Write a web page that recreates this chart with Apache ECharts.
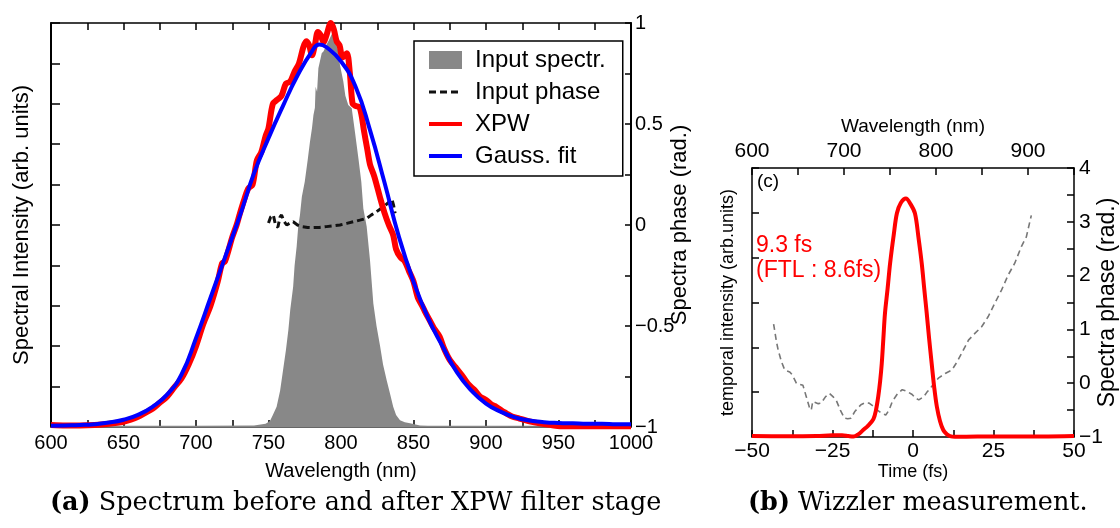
<!DOCTYPE html>
<html><head><meta charset="utf-8">
<script src="https://cdn.jsdelivr.net/npm/echarts@6/dist/echarts.min.js"></script>
<style>html,body{margin:0;padding:0;background:#fff}#c{width:1120px;height:528px}</style>
</head><body><div id="c"></div>
<script>
// ---------- Panel (a): spectra vs wavelength ----------
const wlInput = [600,700,740,748,751,753,755.6,758,760,762,763.7,765,767,768,769.4,770.5,771.7,773,775,777,778.6,780,781,782,782.5,783.5,784.4,786.7,788,790,792,794,796,797,798,799.3,801.6,803,805,807.4,808.5,809.6,812,814,815.4,817.7,820,822.3,824.5,827,829,831.5,834,836,838,840.7,844,847.6,854.5,860,900,1000];
const ampInput = [0.003,0.003,0.004,0.008,0.015,0.03,0.05,0.09,0.14,0.19,0.24,0.29,0.347,0.4,0.446,0.496,0.525,0.57,0.607,0.66,0.706,0.74,0.772,0.79,0.842,0.83,0.888,0.925,0.93,0.946,0.96,0.975,0.972,0.96,0.93,0.896,0.855,0.82,0.797,0.789,0.76,0.731,0.665,0.607,0.541,0.496,0.413,0.306,0.25,0.199,0.155,0.116,0.08,0.05,0.03,0.017,0.012,0.009,0.004,0.003,0.003,0.003];

const wlPhaseA = [750,751.5,753.3,755,756.5,758,759,760.5,762.5,765,767,770,773,777,781,785,790,795,799.3,804,808.5,813,817.7,821,824.6,829.2,832.6,835,836.2,837.3];
const phaseA = [0.01,0.04,0.05,-0.005,-0.01,0.04,0.05,0.02,0.0,0.01,0.016,0.0,-0.008,-0.012,-0.013,-0.012,-0.008,-0.004,0.0,0.008,0.016,0.024,0.033,0.05,0.066,0.09,0.11,0.13,0.1,0.058];

const wlXPW = [600,610,620,630,640,650,655,660,665,670,675,680,685,690,695,700,705,710,715,718,720,725,728,730,733,736,739,742,745,748,750,753,756,759,762,765,768,771,774,776,778,780,782,784,786,788,790,793,795,797,799,801,804,806,808,810,813,816,818,820,823,827,830,833,836,838,841,844,847,850,853,856,858,861,864,868,871,875,879,884,888,892,896,900,904,907,911,914,918,923,930,937,945,951,960,980,1000];
const ampXPW = [0.005,0.004,0.004,0.005,0.008,0.013,0.018,0.025,0.035,0.045,0.06,0.075,0.098,0.12,0.155,0.2,0.255,0.3,0.36,0.405,0.41,0.47,0.5,0.525,0.56,0.59,0.6,0.66,0.68,0.72,0.74,0.8,0.81,0.82,0.85,0.855,0.88,0.9,0.94,0.955,0.945,0.92,0.945,0.978,0.97,0.952,0.97,1.0,0.985,0.955,0.945,0.915,0.925,0.88,0.8,0.795,0.79,0.73,0.69,0.65,0.62,0.567,0.53,0.5,0.475,0.44,0.42,0.41,0.385,0.36,0.32,0.3,0.285,0.265,0.245,0.224,0.195,0.166,0.148,0.125,0.105,0.092,0.075,0.067,0.055,0.05,0.04,0.034,0.026,0.021,0.014,0.009,0.005,0.002,0.002,0.002,0.002];

const wlGauss = [600,610,620,630,640,650,660,670,680,690,700,710,720,730,740,750,760,770,780,785,790,800,810,820,830,840,850,860,870,880,890,900,910,920,930,940,950,960,970,980,990,1000];
const ampGauss = [0.003,0.004,0.005,0.007,0.011,0.018,0.03,0.05,0.08,0.13,0.22,0.32,0.42,0.52,0.628,0.715,0.795,0.87,0.93,0.947,0.94,0.905,0.843,0.735,0.605,0.47,0.36,0.27,0.2,0.135,0.09,0.058,0.038,0.024,0.016,0.012,0.01,0.009,0.008,0.008,0.007,0.007];

// ---------- Panel (b): Wizzler ----------
const timeFs = [-50,-40,-30,-25,-22,-20,-18.5,-17,-15.4,-14,-12.3,-11.5,-10.8,-10.2,-9.7,-9.2,-8.7,-7.9,-7.1,-6,-5,-3.8,-2.2,-0.8,0.6,1.7,2.7,3.5,4.26,5,5.8,6.6,7.4,8.4,9.4,10.5,11.5,13,20,30,40,50];
const pulse = [0.02,0.015,0.02,0.04,0.04,0.02,0.01,0.06,0.16,0.25,0.4,0.6,0.9,1.25,1.64,2.2,2.76,3.3,3.88,4.5,4.99,5.22,5.32,5.2,4.99,4.45,3.88,3.3,2.76,2.2,1.64,1.1,0.68,0.35,0.156,0.06,0.02,0.005,0.01,0.01,0.01,0.02];

const wlPhaseB = [623.5,626.6,628.4,632,635.6,641,644,648.2,652,655.4,659,662.6,664.4,666,668,672,675.2,680,684.2,688,691.4,696,700.4,704,707.6,712,718.4,723,727.3,732,736.3,741,745.4,749,752.5,758,763.3,768,774.1,778,781.3,786.7,790,794,798,803,810,817.3,823,828,835.3,842.5,849.6,856.8,864,871.2,878.4,885.6,892.8,898.2,903.6];
const phaseB = [1.1,0.77,0.62,0.4,0.245,0.21,0.15,0.0,-0.02,-0.04,-0.25,-0.46,-0.5,-0.34,-0.34,-0.38,-0.37,-0.25,-0.19,-0.25,-0.31,-0.5,-0.65,-0.66,-0.65,-0.52,-0.4,-0.36,-0.37,-0.43,-0.5,-0.56,-0.59,-0.5,-0.34,-0.2,-0.12,-0.15,-0.21,-0.28,-0.31,-0.25,-0.17,-0.09,0.0,0.1,0.18,0.245,0.4,0.56,0.8,0.93,1.05,1.24,1.49,1.73,2.01,2.23,2.54,2.72,3.12];

const zip = (a, b) => a.map((v, i) => [v, b[i]]);
const F = '"Liberation Sans", Arial, sans-serif';
const SERIF = '"DejaVu Serif", "Liberation Serif", serif';
const minus = v => (v < 0 ? '\u2212' + Math.abs(v) : String(v));
const black = '#000';
const hiddenSymbol = { color: 'rgba(0,0,0,0)', borderWidth: 0, opacity: 0 };

function axis(extra) {
  return Object.assign({
    type: 'value',
    splitLine: { show: false },
    axisLine: { show: true, onZero: false, lineStyle: { color: black, width: 1.5 } },
    axisTick: { show: true, inside: true, length: 7, lineStyle: { color: black, width: 1.5 } },
    axisLabel: { show: false, color: black, fontFamily: F },
    nameTextStyle: { color: black, fontFamily: F },
    nameLocation: 'middle',
    nameMoveOverlap: false
  }, extra);
}

const chart = echarts.init(document.getElementById('c'), null, { renderer: 'canvas' });
chart.setOption({
  animation: false,
  backgroundColor: '#fff',
  textStyle: { fontFamily: F },
  grid: [
    { left: 51, top: 23, width: 580, height: 404 },
    { left: 752, top: 168, width: 322, height: 269 }
  ],
  xAxis: [
    axis({ gridIndex: 0, position: 'bottom', min: 600, max: 1000, interval: 25,
      axisLine: { show: true, onZero: false, lineStyle: { color: '#666', width: 2 } },
      axisLabel: { show: true, color: black, fontFamily: F, fontSize: 20, margin: 6, showMinLabel: true, showMaxLabel: true,
        formatter: v => (v % 50 === 0 ? String(v) : '') },
      name: 'Wavelength (nm)', nameGap: 34, nameTextStyle: { color: black, fontFamily: F, fontSize: 20 } }),
    axis({ gridIndex: 0, position: 'top', min: 600, max: 1000, interval: 25 }),
    axis({ gridIndex: 1, position: 'bottom', min: -50, max: 50, interval: 12.5,
      axisLabel: { show: true, color: black, fontFamily: F, fontSize: 21, margin: 4, showMinLabel: true, showMaxLabel: true,
        formatter: v => (v % 25 === 0 ? minus(v) : '') },
      name: 'Time (fs)', nameGap: 26, nameTextStyle: { color: black, fontFamily: F, fontSize: 18 } }),
    axis({ gridIndex: 1, position: 'top', min: 600, max: 950, interval: 50,
      axisLabel: { show: true, color: black, fontFamily: F, fontSize: 21, margin: 6, showMinLabel: true, showMaxLabel: true,
        formatter: v => (v % 100 === 0 ? String(v) : '') },
      name: 'Wavelength (nm)', nameGap: 32, nameTextStyle: { color: black, fontFamily: F, fontSize: 19 } })
  ],
  yAxis: [
    axis({ gridIndex: 0, position: 'left', min: 0, max: 1, interval: 0.1,
      axisLine: { show: true, onZero: false, lineStyle: { color: black, width: 2 } },
      axisTick: { show: true, inside: true, length: 9, lineStyle: { color: black, width: 1.5 } },
      name: 'Spectral Intensity (arb. units)', nameGap: 18, nameRotate: 90, nameTextStyle: { color: black, fontFamily: F, fontSize: 22 } }),
    axis({ gridIndex: 0, position: 'right', min: -1, max: 1, interval: 0.25,
      axisLine: { show: true, onZero: false, lineStyle: { color: black, width: 2 } },
      axisTick: { show: true, inside: true, length: 6, lineStyle: { color: black, width: 1.5 } },
      axisLabel: { show: true, color: black, fontFamily: F, fontSize: 20, margin: 4, showMinLabel: true, showMaxLabel: true,
        formatter: v => (Math.abs(v * 2 - Math.round(v * 2)) < 1e-9 ? minus(v) : '') },
      name: 'Spectra phase (rad.)', nameGap: 38, nameRotate: 90, nameTextStyle: { color: black, fontFamily: F, fontSize: 22 } }),
    axis({ gridIndex: 1, position: 'left', min: 0, max: 6, interval: 1,
      name: 'temporal intensity (arb.units)', nameGap: 15, nameRotate: 90, nameTextStyle: { color: black, fontFamily: F, fontSize: 18 } }),
    axis({ gridIndex: 1, position: 'right', min: -1, max: 4, interval: 0.5,
      axisLabel: { show: true, color: black, fontFamily: F, fontSize: 21, margin: 5, showMinLabel: true, showMaxLabel: true,
        formatter: v => (v % 1 === 0 ? minus(v) : '') },
      name: 'Spectra phase (rad.)', nameGap: 22, nameRotate: 90, nameTextStyle: { color: black, fontFamily: F, fontSize: 23 } })
  ],
  legend: {
    orient: 'vertical', left: 414, top: 41,
    backgroundColor: '#fff', borderColor: black, borderWidth: 1.5,
    padding: [7, 17, 8, 13], itemGap: 8, itemWidth: 33, itemHeight: 18,
    textStyle: { fontFamily: F, fontSize: 24, color: black, padding: [0, 0, 0, 8] },
    data: [
      { name: 'Input spectr.', icon: 'rect' },
      { name: 'Input phase', itemStyle: hiddenSymbol, lineStyle: { width: 3, color: '#111', type: [7, 4] } },
      { name: 'XPW', itemStyle: hiddenSymbol, lineStyle: { width: 4, color: '#f00' } },
      { name: 'Gauss. fit', itemStyle: hiddenSymbol, lineStyle: { width: 4, color: '#00f' } }
    ]
  },
  series: [
    { name: 'Input spectr.', type: 'line', xAxisIndex: 0, yAxisIndex: 0, data: zip(wlInput, ampInput),
      symbol: 'none', color: '#888', lineStyle: { width: 0, color: '#888' }, areaStyle: { color: '#888', opacity: 1 }, itemStyle: { color: '#888' } },
    { name: 'Input phase', type: 'line', xAxisIndex: 0, yAxisIndex: 1, data: zip(wlPhaseA, phaseA),
      symbol: 'none', color: '#111', lineStyle: { width: 3, color: '#111', type: [7, 4] } },
    { name: 'XPW', type: 'line', xAxisIndex: 0, yAxisIndex: 0, data: zip(wlXPW, ampXPW),
      symbol: 'none', smooth: 0.3, color: '#f00', lineStyle: { width: 6, color: '#f00' } },
    { name: 'Gauss. fit', type: 'line', xAxisIndex: 0, yAxisIndex: 0, data: zip(wlGauss, ampGauss),
      symbol: 'none', smooth: true, color: '#00f', lineStyle: { width: 4, color: '#00f' } },
    { name: 'Pulse', type: 'line', xAxisIndex: 2, yAxisIndex: 2, data: zip(timeFs, pulse), z: 3,
      symbol: 'none', smooth: 0.35, color: '#f00', lineStyle: { width: 4, color: '#f00' } },
    { name: 'Wizzler phase', type: 'line', xAxisIndex: 3, yAxisIndex: 3, data: zip(wlPhaseB, phaseB), z: 2,
      symbol: 'none', color: '#777', lineStyle: { width: 1.6, color: '#777', type: [6, 4] } }
  ],
  graphic: [
    { type: 'text', left: 757, top: 172, style: { text: '(c)', fontFamily: F, fontSize: 19, fill: black } },
    { type: 'text', left: 756, top: 234, style: { text: '9.3 fs', fontFamily: F, fontSize: 23, fill: '#f00' } },
    { type: 'text', left: 756, top: 259, style: { text: '(FTL : 8.6fs)', fontFamily: F, fontSize: 23, fill: '#f00' } },
    { type: 'text', left: 50, top: 490, style: {
        text: '{b|(a)} Spectrum before and after XPW filter stage',
        fontFamily: SERIF, fontSize: 25.5, fill: black,
        rich: { b: { fontFamily: SERIF, fontSize: 25.5, fontWeight: 'bold', fill: black } } } },
    { type: 'text', left: 748, top: 490, style: {
        text: '{b|(b)} Wizzler measurement.',
        fontFamily: SERIF, fontSize: 25.5, fill: black,
        rich: { b: { fontFamily: SERIF, fontSize: 25.5, fontWeight: 'bold', fill: black } } } }
  ]
});
</script></body></html>
